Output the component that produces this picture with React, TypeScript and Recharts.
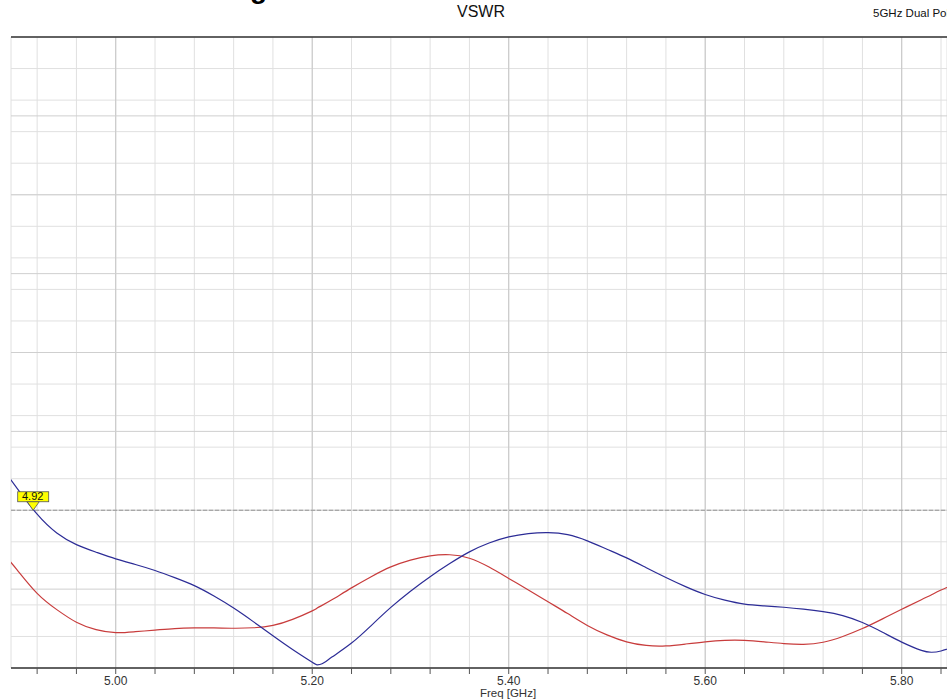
import React from "react";
import {
    LineChart,
    Line,
    XAxis,
    YAxis,
    CartesianGrid,
    ReferenceLine,
    ReferenceDot
} from "recharts";

// frequency sweep (GHz) and VSWR of the two ports
const freqGHz = [
    4.89, 4.90, 4.92, 4.94, 4.96, 4.98, 5.00, 5.02, 5.04, 5.06, 5.08, 5.10, 5.12, 5.14, 5.16, 5.18,
    5.20, 5.205, 5.21, 5.22, 5.24, 5.26, 5.28, 5.30, 5.32, 5.34, 5.36, 5.38, 5.40, 5.42, 5.44, 5.46,
    5.48, 5.50, 5.52, 5.54, 5.56, 5.58, 5.60, 5.62, 5.64, 5.66, 5.68, 5.70, 5.72, 5.74, 5.76, 5.78,
    5.80, 5.82, 5.83, 5.84, 5.86
];
const vswrBlue = [
    2.22, 2.135, 1.975, 1.856, 1.782, 1.734, 1.692, 1.656, 1.618, 1.573, 1.522, 1.456, 1.38, 1.294, 1.204, 1.117,
    1.036, 1.02, 1.027, 1.069, 1.158, 1.269, 1.384, 1.487, 1.579, 1.662, 1.736, 1.792, 1.831, 1.852, 1.858, 1.845,
    1.806, 1.753, 1.698, 1.636, 1.574, 1.516, 1.466, 1.43, 1.405, 1.394, 1.385, 1.373, 1.357, 1.332, 1.288, 1.228,
    1.164, 1.112, 1.1, 1.108, 1.148
];
const vswrRed = [
    1.693, 1.619, 1.473, 1.37, 1.29, 1.243, 1.224, 1.23, 1.24, 1.25, 1.254, 1.254, 1.252, 1.255, 1.27, 1.308,
    1.362, 1.38, 1.397, 1.432, 1.508, 1.579, 1.641, 1.684, 1.711, 1.718, 1.696, 1.64, 1.568, 1.495, 1.42, 1.345,
    1.27, 1.21, 1.166, 1.143, 1.14, 1.152, 1.166, 1.175, 1.175, 1.166, 1.155, 1.15, 1.163, 1.2, 1.25, 1.31,
    1.372, 1.433, 1.463, 1.494, 1.55
];

const xTicks = [
    4.92, 4.96, 5.0, 5.04, 5.08, 5.12, 5.16, 5.2, 5.24, 5.28, 5.32, 5.36, 5.4, 5.44, 5.48, 5.52,
    5.56, 5.6, 5.64, 5.68, 5.72, 5.76, 5.8, 5.84
];
const xMajor = [5.0, 5.2, 5.4, 5.6, 5.8];
const xLabels = ["5.00", "5.20", "5.40", "5.60", "5.80"];
const yTicks = [
    1.0, 1.1, 1.2, 1.3, 1.4, 1.5, 1.6, 1.7, 1.8, 1.9, 2.0, 2.1, 2.2, 2.3, 2.4, 2.5, 2.6, 2.7, 2.8, 2.9,
    3.0, 3.1, 3.2, 3.3, 3.4, 3.5, 3.6, 3.7, 3.8, 3.9, 4.0, 4.1, 4.2, 4.3, 4.4, 4.5, 4.6, 4.7, 4.8, 4.9, 5.0
];
const yMajor = [1.5, 2.0, 2.5, 3.0, 3.5, 4.0, 4.5];

const markerFreq = 4.916;
const markerVswr = 2.0;
const markerLabel = "4.92";

const data = freqGHz.map((f, i) => ({ freq: f, blue: vswrBlue[i], red: vswrRed[i] }));

const FONT = '"Liberation Sans", Arial, sans-serif';

function MarkerFlag(props: any) {
    const { cx, cy } = props;
    if (cx == null || cy == null) return null;
    return (
        <g>
            <rect x={cx - 15.5} y={cy - 18.5} width={31} height={10} fill="#ffff00" stroke="#555" strokeWidth={0.8} />
            <path d={`M${cx - 6},${cy - 8.5} L${cx + 6},${cy - 8.5} L${cx},${cy} Z`} fill="#ffff00" stroke="#555" strokeWidth={0.8} />
            <text x={cx - 0.5} y={cy - 10} textAnchor="middle" fontSize={11} fontFamily={FONT} fill="#111">
                {markerLabel}
            </text>
        </g>
    );
}

export default function App() {
    return (
        <div style={{ position: "absolute", left: 0, top: 0, width: 947, height: 700, background: "#fff", overflow: "hidden", fontFamily: FONT }}>
            <div style={{ position: "absolute", left: 250, top: -25, fontSize: 28, lineHeight: "28px", fontWeight: "bold", color: "#000" }}>g</div>
            <div style={{ position: "absolute", left: 431, width: 100, top: 3, textAlign: "center", fontSize: 16, color: "#111" }}>VSWR</div>
            <div style={{ position: "absolute", left: 873, top: 7, fontSize: 11.5, whiteSpace: "nowrap", color: "#111" }}>5GHz Dual Polarization</div>
            <LineChart width={947} height={700} data={data} margin={{ top: 37, right: 0, bottom: 0, left: 11 }}>
                <CartesianGrid stroke="#e0e0e0" strokeWidth={1} />
                <XAxis
                    dataKey="freq"
                    type="number"
                    domain={[4.8934, 5.8461]}
                    allowDataOverflow
                    ticks={xTicks}
                    interval={0}
                    height={32}
                    tickSize={6}
                    tickMargin={2}
                    axisLine={{ stroke: "#333", strokeWidth: 1.5 }}
                    tickLine={{ stroke: "#555" }}
                    tick={{ fontSize: 12, fill: "#333", fontFamily: FONT }}
                    tickFormatter={(v: number) => (xLabels.includes(v.toFixed(2)) ? v.toFixed(2) : "")}
                />
                <YAxis type="number" domain={[1, 5]} ticks={yTicks} hide allowDataOverflow />
                {xMajor.map((x) => (
                    <ReferenceLine key={"vx" + x} x={x} stroke="#c6c6c6" />
                ))}
                {yMajor.map((y) => (
                    <ReferenceLine key={"hy" + y} y={y} stroke="#cfcfcf" />
                ))}
                <ReferenceLine y={5} stroke="#333" strokeWidth={1.5} />
                <ReferenceLine y={markerVswr} stroke="#999" strokeDasharray="4 2" />
                <Line type="natural" dataKey="red" stroke="#c83c3c" strokeWidth={1.2} dot={false} isAnimationActive={false} />
                <Line type="natural" dataKey="blue" stroke="#2c2c96" strokeWidth={1.2} dot={false} isAnimationActive={false} />
                <ReferenceDot x={markerFreq} y={markerVswr} shape={MarkerFlag} />
            </LineChart>
            <div style={{ position: "absolute", left: 458, width: 100, top: 687, lineHeight: "13px", textAlign: "center", fontSize: 11.5, color: "#333" }}>Freq [GHz]</div>
        </div>
    );
}
